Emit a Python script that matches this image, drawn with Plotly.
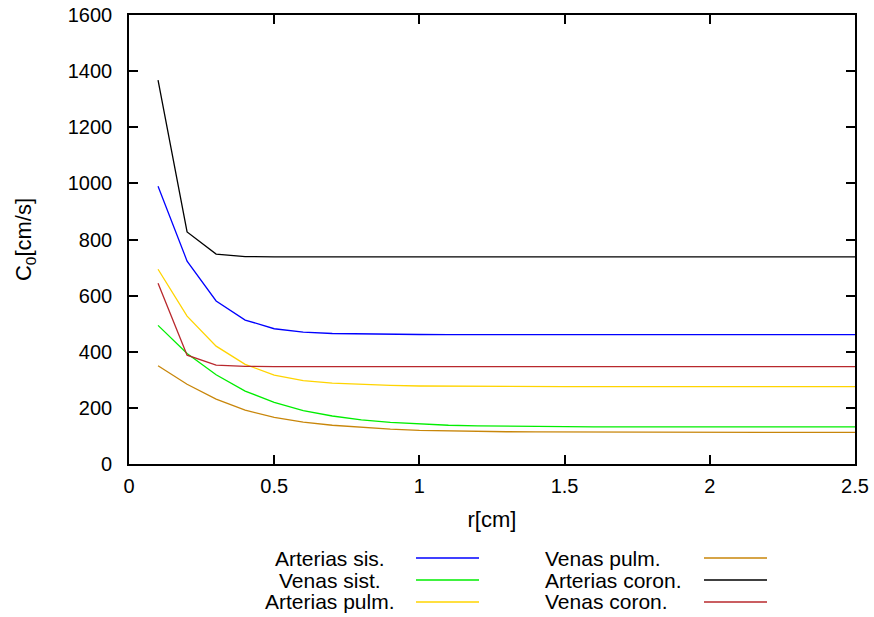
import plotly.graph_objects as go

r = [round(0.1 * i, 1) for i in range(1, 26)]

names = ["Arterias sis.", "Venas sist.", "Arterias pulm.",
         "Venas pulm.", "Arterias coron.", "Venas coron."]
colors = ["#0000ff", "#00ee00", "#ffd400", "#c8860a", "#000000", "#b8282d"]

arterias_sis = [990, 723, 581, 513, 482, 470, 465, 463, 462, 461.5, 461, 461, 461,
                461, 461, 461, 461, 461, 461, 461, 461, 461, 461, 461, 461]
venas_sist = [494, 394, 318, 260, 220, 190, 171, 157, 148, 142, 138, 136, 134.5,
              133.5, 133, 132.5, 132, 132, 132, 132, 132, 132, 132, 132, 132]
arterias_pulm = [694, 527, 420, 355, 317, 297, 288, 283, 280, 278, 277, 276.5, 276,
                 276, 275.5, 275.5, 275.5, 275.5, 275.5, 275.5, 275.5, 275.5, 275.5, 275.5, 275.5]
venas_pulm = [350, 284, 231, 192, 166, 149, 138, 130, 124, 120, 117.5, 116, 115,
              114.5, 114, 113.5, 113.5, 113, 113, 113, 113, 113, 113, 113, 113]
arterias_coron = [1368, 827, 748, 739, 738, 738, 738, 738, 738, 738, 738, 738, 738,
                  738, 738, 738, 738, 738, 738, 738, 738, 738, 738, 738, 738]
venas_coron = [644, 388, 352, 348, 347, 347, 347, 347, 347, 347, 347, 347, 347,
               347, 347, 347, 347, 347, 347, 347, 347, 347, 347, 347, 347]

series = [arterias_sis, venas_sist, arterias_pulm, venas_pulm, arterias_coron, venas_coron]

x_ticks = [0, 0.5, 1, 1.5, 2, 2.5]
x_tick_labels = ["0", "0.5", "1", "1.5", "2", "2.5"]
y_ticks = [0, 200, 400, 600, 800, 1000, 1200, 1400, 1600]

FONT = "Liberation Sans, Arial, sans-serif"
fig = go.Figure()
for name, col, ys in zip(names, colors, series):
    fig.add_trace(go.Scatter(x=r, y=ys, mode="lines", name=name,
                             line=dict(color=col, width=1.3), showlegend=False))

axis_common = dict(showline=True, linecolor="black", linewidth=1.6, mirror="allticks",
                   ticks="inside", ticklen=9, tickwidth=1.5, tickcolor="black",
                   showgrid=False, zeroline=False, automargin=False,
                   tickfont=dict(family=FONT, size=20, color="black"))

fig.update_xaxes(range=[0, 2.5], tickvals=x_ticks, ticktext=x_tick_labels,
                 ticklabelstandoff=3,
                 title=dict(text="r[cm]", font=dict(family=FONT, size=22, color="black"), standoff=16),
                 **axis_common)
fig.update_yaxes(range=[0, 1600], tickvals=y_ticks, ticklabelstandoff=11,
                 title=dict(text="C<sub>0</sub>[cm/s]", font=dict(family=FONT, size=22, color="black"), standoff=30),
                 **axis_common)

# custom legend (text then line sample), two columns of three
L, R, T, B = 129, 19, 15, 153
W, H = 874 - L - R, 617 - T - B
def px(xp):
    return (xp - L) / W
def py(yp):
    return (T + H - yp) / H

rows_y = [558, 580, 602]
for i, (name, col) in enumerate(zip(names, colors)):
    c, row = divmod(i, 3)
    yv = py(rows_y[row])
    if c == 0:
        fig.add_annotation(x=px(330), y=yv, xref="paper", yref="paper", text=name,
                           showarrow=False, xanchor="center", yanchor="middle",
                           font=dict(family=FONT, size=21, color="black"))
        x0, x1 = px(416), px(479)
    else:
        fig.add_annotation(x=px(543), y=yv, xref="paper", yref="paper", text=name,
                           showarrow=False, xanchor="left", yanchor="middle",
                           font=dict(family=FONT, size=21, color="black"))
        x0, x1 = px(704), px(767)
    fig.add_shape(type="line", xref="paper", yref="paper", x0=x0, x1=x1, y0=yv, y1=yv,
                  line=dict(color=col, width=1.3))

fig.update_layout(width=874, height=617, margin=dict(l=L, r=R, t=T, b=B),
                  plot_bgcolor="white", paper_bgcolor="white",
                  font=dict(family=FONT, size=20, color="black"))

fig.write_html("out.html", config={"displayModeBar": False},
               post_script="document.body.style.margin='0';document.body.style.overflow='hidden';")
